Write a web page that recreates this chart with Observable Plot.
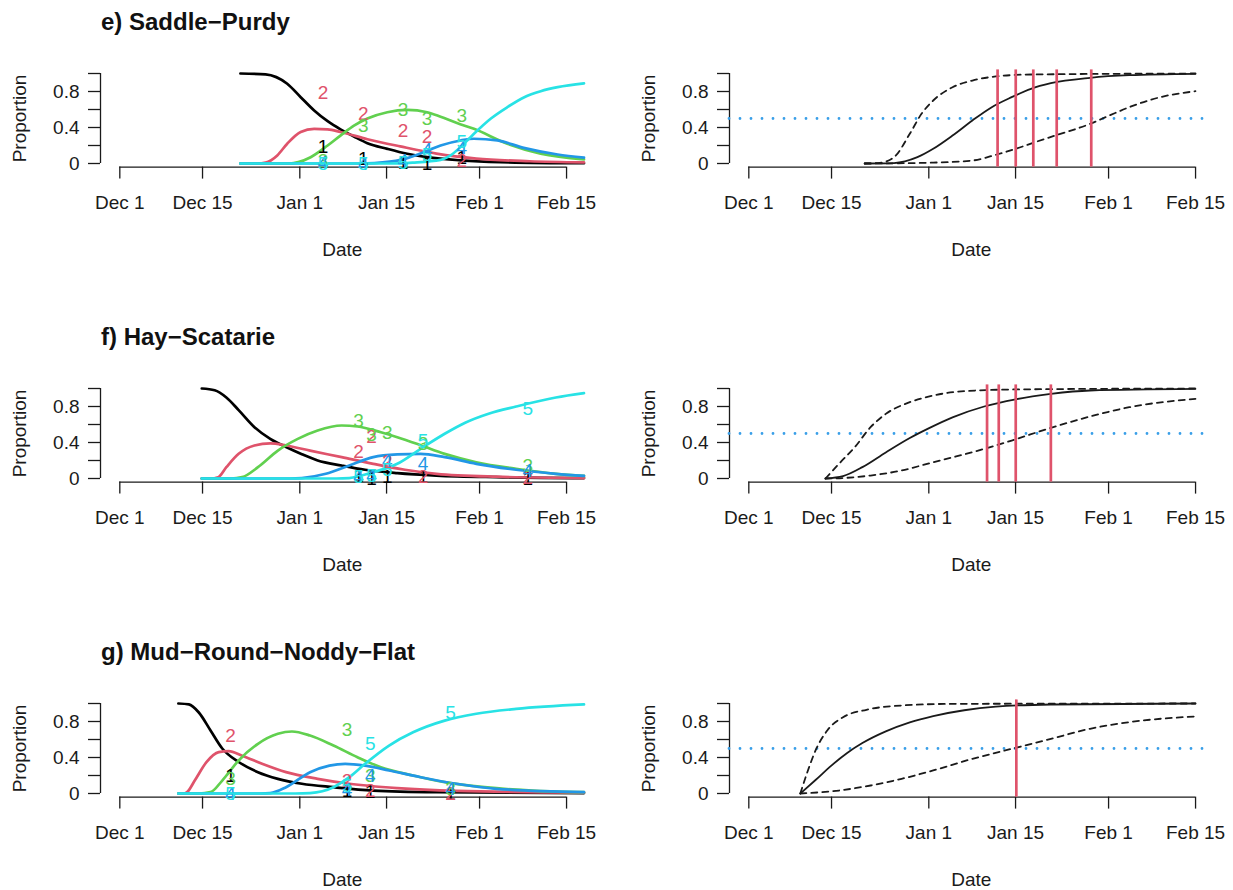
<!DOCTYPE html>
<html><head><meta charset="utf-8">
<script src="https://cdn.jsdelivr.net/npm/d3@7"></script>
<script src="https://cdn.jsdelivr.net/npm/@observablehq/plot@0.6"></script>
<style>
body{margin:0;background:#fff;}
#root{position:relative;width:1233px;height:890px;overflow:hidden;font-family:"Liberation Sans",Arial,sans-serif;background:#fff;}
.panel{position:absolute;}
.title{position:absolute;font-weight:bold;font-size:24px;line-height:24px;white-space:nowrap;color:#111;}
</style></head><body><div id="root"></div>
<script>
// ---- axis data (x in days after Dec 1) ----
const tickDays = [0, 14.13, 30.75, 45.57, 61.46, 76.32];
const tickLabels = ["Dec 1", "Dec 15", "Jan 1", "Jan 15", "Feb 1", "Feb 15"];
const yTicks = [0, 0.2, 0.4, 0.6, 0.8, 1];
const yTickLabels = ["0", "", "0.4", "", "0.8", ""];
const xRegion = [-3.3, 79.3];
const yRegion = [-0.04, 1.04];
const stageLabels = ["1", "2", "3", "4", "5"];
const stageColors = ["#000000", "#DF536B", "#61D04F", "#2297E6", "#28E2E5"];
const titles = ["e) Saddle\u2212Purdy", "f) Hay\u2212Scatarie", "g) Mud\u2212Round\u2212Noddy\u2212Flat"];

// ---- panel e: stage proportions ----
const eStage1 = [[20.6,1],[24.9,0.99],[28.6,0.886],[30.9,0.737],[33.2,0.589],[35.5,0.47],[37.7,0.38],[40,0.3],[42.3,0.226],[45.7,0.163],[49.1,0.108],[52.5,0.07],[58.2,0.035],[65,0.015],[79.3,0.003]];
const eStage2 = [[20.6,0],[23.5,0],[24.9,0.01],[26.9,0.09],[28.6,0.22],[30.9,0.35],[33.2,0.385],[35.5,0.38],[37.7,0.35],[42.3,0.27],[47.9,0.19],[54.1,0.11],[60.9,0.055],[70,0.025],[79.3,0.012]];
const eStage3 = [[20.6,0],[29,0],[30.5,0.015],[32.6,0.07],[35.5,0.2],[37.7,0.31],[40,0.42],[42.3,0.5],[45.7,0.57],[49.1,0.596],[52.5,0.57],[54.8,0.52],[57.6,0.45],[60.5,0.385],[66.2,0.22],[71.9,0.11],[79.3,0.045]];
const eStage4 = [[20.6,0],[41,0],[43.5,0.005],[48,0.04],[52.5,0.14],[54.8,0.2],[58.2,0.256],[60.5,0.275],[64.5,0.256],[69,0.174],[74.8,0.1],[79.3,0.065]];
const eStage5 = [[20.6,0],[46,0],[50,0.01],[54.8,0.04],[56.5,0.09],[58.8,0.22],[60.5,0.33],[63.4,0.5],[66.2,0.626],[69.1,0.737],[71.9,0.803],[74.8,0.848],[79.3,0.89]];
const eObsDays = [34.7, 41.6, 48.4, 52.5, 58.4];
const eObs1 = [0.18, 0.05, 0.01, 0.0, 0.06];
const eObs2 = [0.78, 0.55, 0.36, 0.3, 0.03];
const eObs3 = [0.03, 0.42, 0.59, 0.5, 0.53];
const eObs4 = [0.01, 0.0, 0.03, 0.15, 0.17];
const eObs5 = [0.0, 0.0, 0.01, 0.1, 0.24];

// ---- panel f ----
const fStage1 = [[14,1],[16.2,0.98],[18.2,0.9],[20.3,0.76],[23,0.57],[25.7,0.44],[28.4,0.35],[31.1,0.27],[33.8,0.2],[37.9,0.144],[41.9,0.097],[47.4,0.06],[54.1,0.033],[64.3,0.015],[79.3,0.005]];
const fStage2 = [[14,0],[15.5,0],[16.8,0.015],[18.2,0.126],[20.3,0.274],[23,0.367],[25.7,0.39],[28.4,0.367],[32.5,0.31],[37.9,0.237],[43.3,0.163],[48.7,0.097],[54.1,0.052],[64.3,0.02],[79.3,0.005]];
const fStage3 = [[14,0],[19,0],[20.9,0.015],[23.6,0.126],[27,0.31],[30.4,0.44],[33.8,0.533],[37.9,0.589],[40.6,0.578],[44.6,0.514],[47.4,0.459],[51.4,0.37],[55.5,0.274],[60.9,0.181],[67.7,0.108],[74.5,0.052],[79.3,0.03]];
const fStage4 = [[14,0],[29,0],[31.1,0.005],[35.2,0.052],[39.2,0.144],[43.3,0.237],[47.4,0.267],[51.4,0.274],[55.5,0.237],[60.9,0.163],[67.7,0.097],[74.5,0.052],[79.3,0.03]];
const fStage5 = [[14,0],[37,0],[39.2,0.005],[43.3,0.07],[47.4,0.163],[51.4,0.33],[55.5,0.497],[59,0.62],[63,0.72],[67.7,0.8],[74.5,0.9],[79.3,0.948]];
const fObsDays = [40.8, 43, 45.7, 51.8, 69.7];
const fObs1 = [0.03, 0.0, 0.02, 0.02, 0.0];
const fObs2 = [0.29, 0.46, 0.18, 0.02, 0.01];
const fObs3 = [0.64, 0.48, 0.51, 0.38, 0.14];
const fObs4 = [0.02, 0.03, 0.2, 0.16, 0.08];
const fObs5 = [0.02, 0.03, 0.1, 0.42, 0.77];

// ---- panel g ----
const gStage1 = [[10,1],[11.8,0.99],[13.5,0.9],[15.5,0.7],[17.5,0.5],[20.3,0.35],[23.6,0.237],[27,0.163],[31.1,0.108],[36.5,0.07],[43.3,0.033],[54.1,0.015],[79.3,0.005]];
const gStage2 = [[10,0],[11,0],[11.5,0.015],[12.8,0.144],[14.8,0.348],[16.9,0.459],[18.6,0.47],[20.9,0.42],[24.3,0.33],[28.4,0.237],[33.8,0.163],[39.2,0.108],[47.4,0.06],[57.5,0.03],[79.3,0.01]];
const gStage3 = [[10,0],[13.5,0],[15.5,0.015],[17.5,0.144],[20.3,0.367],[23.6,0.552],[27,0.663],[29.4,0.689],[32.5,0.644],[36.5,0.533],[40.6,0.403],[44.6,0.292],[50.1,0.2],[55.5,0.126],[62.3,0.07],[71.1,0.03],[79.3,0.015]];
const gStage4 = [[10,0],[24,0],[25.7,0.005],[28.4,0.07],[32.5,0.237],[35.8,0.31],[38.5,0.33],[41.9,0.31],[46,0.256],[51.4,0.181],[57.5,0.108],[64.3,0.052],[79.3,0.015]];
const gStage5 = [[10,0],[30,0],[32.5,0.005],[36.5,0.07],[39.2,0.181],[41.9,0.33],[46,0.533],[50.1,0.68],[55.5,0.81],[60.9,0.886],[67.7,0.94],[79.3,0.99]];
const gObsDays = [18.9, 38.8, 42.8, 56.5];
const gObs1 = [0.2, 0.03, 0.02, 0.0];
const gObs2 = [0.64, 0.14, 0.03, 0.0];
const gObs3 = [0.16, 0.71, 0.2, 0.05];
const gObs4 = [0.0, 0.04, 0.2, 0.05];
const gObs5 = [0.0, 0.08, 0.55, 0.9];

// ---- right panels: cumulative proportion with bounds ----
const reMid = [[19.8,0],[24.8,0.005],[28.8,0.07],[31.5,0.163],[34.8,0.31],[38.2,0.478],[41.5,0.626],[44.9,0.737],[48.2,0.83],[51.6,0.892],[58.3,0.952],[65,0.981],[76.3,0.996]];
const reUp = [[19.8,0],[22.1,0.005],[24.8,0.07],[27.5,0.33],[29.5,0.552],[31.5,0.7],[34.8,0.848],[38.2,0.922],[42.2,0.967],[48.2,0.989],[76.3,1]];
const reLow = [[19.8,0],[25,0.002],[31.5,0.01],[38.2,0.033],[42.2,0.097],[45.6,0.163],[48.9,0.237],[52.3,0.31],[58.3,0.44],[61.6,0.533],[65,0.626],[70.3,0.737],[76.3,0.803]];
const reRed = [42.5, 45.6, 48.6, 52.6, 58.5];

const rfMid = [[13.1,0],[16.1,0.026],[19.4,0.126],[23.4,0.29],[27.5,0.45],[30.8,0.56],[34.8,0.68],[40.2,0.8],[45.6,0.88],[51.6,0.94],[58.3,0.978],[76.3,0.996]];
const rfUp = [[13.1,0],[15.4,0.163],[18.1,0.348],[20.8,0.57],[23.4,0.718],[27.5,0.848],[31.5,0.922],[36.8,0.97],[44.9,0.989],[76.3,1]];
const rfLow = [[13.1,0],[16,0.005],[20.8,0.033],[26.1,0.089],[31.5,0.181],[38.2,0.292],[44.9,0.422],[51.6,0.563],[58.3,0.689],[65,0.792],[76.3,0.885]];
const rfRed = [40.7, 42.7, 45.6, 51.6];

const rgMid = [[8.8,0],[11.4,0.15],[14.1,0.31],[16.8,0.45],[19.4,0.56],[23.4,0.69],[27.5,0.79],[31.5,0.86],[36.8,0.925],[42.2,0.965],[51.6,0.989],[76.3,1]];
const rgUp = [[8.8,0],[10.1,0.256],[11.4,0.478],[13.4,0.7],[16.1,0.848],[20.1,0.93],[26.1,0.978],[34.8,0.996],[76.3,1]];
const rgLow = [[8.8,0],[15.4,0.033],[20.8,0.089],[26.1,0.163],[31.5,0.256],[38.2,0.385],[44.9,0.496],[51.6,0.607],[58.3,0.719],[65,0.793],[76.3,0.856]];
const rgRed = [45.7];
const halfLine = [0.5];

// ---- drawing ----
const FONT = '"Liberation Sans", Arial, Helvetica, sans-serif';
const H = 262;
const xLab = new Map(tickDays.map((d, i) => [d, tickLabels[i]]));
const yLab = new Map(yTicks.map((d, i) => [d, yTickLabels[i]]));

function frameMarks() {
  return [
    Plot.axisX(tickDays, {anchor: "bottom", tickFormat: d => xLab.get(d), tickSize: 12, tickPadding: 16, fontSize: 19, strokeWidth: 1.3, label: null}),
    Plot.axisY(yTicks, {anchor: "left", tickFormat: d => yLab.get(d), tickSize: 12, tickPadding: 9, fontSize: 19, strokeWidth: 1.3, label: null}),
    Plot.ruleX([{x: xRegion[0], y1: yTicks[0], y2: yTicks[yTicks.length - 1]}], {x: "x", y1: "y1", y2: "y2", strokeWidth: 1.3}),
    Plot.ruleY([{y: yRegion[0], x1: tickDays[0], x2: tickDays[tickDays.length - 1]}], {y: "y", x1: "x1", x2: "x2", strokeWidth: 1.3}),
    Plot.text(["Proportion"], {frameAnchor: "left", textAnchor: "middle", lineAnchor: "middle", rotate: -90, dx: -81, fontSize: 19}),
    Plot.text(["Date"], {frameAnchor: "bottom", textAnchor: "middle", lineAnchor: "middle", dy: 82.4, fontSize: 19})
  ];
}

function makePlot(width, marks) {
  return Plot.plot({
    width, height: H,
    marginLeft: 100, marginRight: width - 583.5, marginTop: 69.4, marginBottom: H - 166.6,
    x: {domain: xRegion}, y: {domain: yRegion},
    style: {fontFamily: FONT, fontSize: "19px", color: "#1a1a1a", background: "transparent", overflow: "visible"},
    marks: [...frameMarks(), ...marks]
  });
}

function stagePanel(stages, obsDays, obs) {
  const marks = [];
  stages.forEach((s, i) => marks.push(Plot.line(s, {x: d => d[0], y: d => d[1], stroke: stageColors[i], strokeWidth: 2.7, curve: "monotone-x"})));
  obs.forEach((o, i) => marks.push(Plot.text(obsDays.map((d, j) => ({x: d, y: o[j]})), {x: "x", y: "y", text: () => stageLabels[i], fill: stageColors[i], fontSize: 19})));
  return makePlot(616, marks);
}

function cumPanel(mid, up, low, red) {
  return makePlot(604, [
    Plot.ruleY(halfLine, {stroke: "#3a9fe8", strokeWidth: 2.8, strokeDasharray: "0,11", strokeLinecap: "round"}),
    Plot.line(up, {x: d => d[0], y: d => d[1], stroke: "#1a1a1a", strokeWidth: 1.8, strokeDasharray: "6,5", curve: "monotone-x"}),
    Plot.line(low, {x: d => d[0], y: d => d[1], stroke: "#1a1a1a", strokeWidth: 1.8, strokeDasharray: "6,5", curve: "monotone-x"}),
    Plot.line(mid, {x: d => d[0], y: d => d[1], stroke: "#1a1a1a", strokeWidth: 1.8, curve: "monotone-x"}),
    Plot.ruleX(red, {stroke: "#DF536B", strokeWidth: 2.7})
  ]);
}

const root = document.getElementById("root");
const rowTops = [0, 315, 630];
const leftCharts = [
  stagePanel([eStage1, eStage2, eStage3, eStage4, eStage5], eObsDays, [eObs1, eObs2, eObs3, eObs4, eObs5]),
  stagePanel([fStage1, fStage2, fStage3, fStage4, fStage5], fObsDays, [fObs1, fObs2, fObs3, fObs4, fObs5]),
  stagePanel([gStage1, gStage2, gStage3, gStage4, gStage5], gObsDays, [gObs1, gObs2, gObs3, gObs4, gObs5])
];
const rightCharts = [
  cumPanel(reMid, reUp, reLow, reRed),
  cumPanel(rfMid, rfUp, rfLow, rfRed),
  cumPanel(rgMid, rgUp, rgLow, rgRed)
];
rowTops.forEach((top, r) => {
  const l = document.createElement("div"); l.className = "panel"; l.style.left = "0px"; l.style.top = top + "px";
  l.appendChild(leftCharts[r]); root.appendChild(l);
  const rt = document.createElement("div"); rt.className = "panel"; rt.style.left = "629px"; rt.style.top = top + "px";
  rt.appendChild(rightCharts[r]); root.appendChild(rt);
  const t = document.createElement("div"); t.className = "title"; t.textContent = titles[r];
  t.style.left = "101px"; t.style.top = (top + 10) + "px"; root.appendChild(t);
});
</script></body></html>
